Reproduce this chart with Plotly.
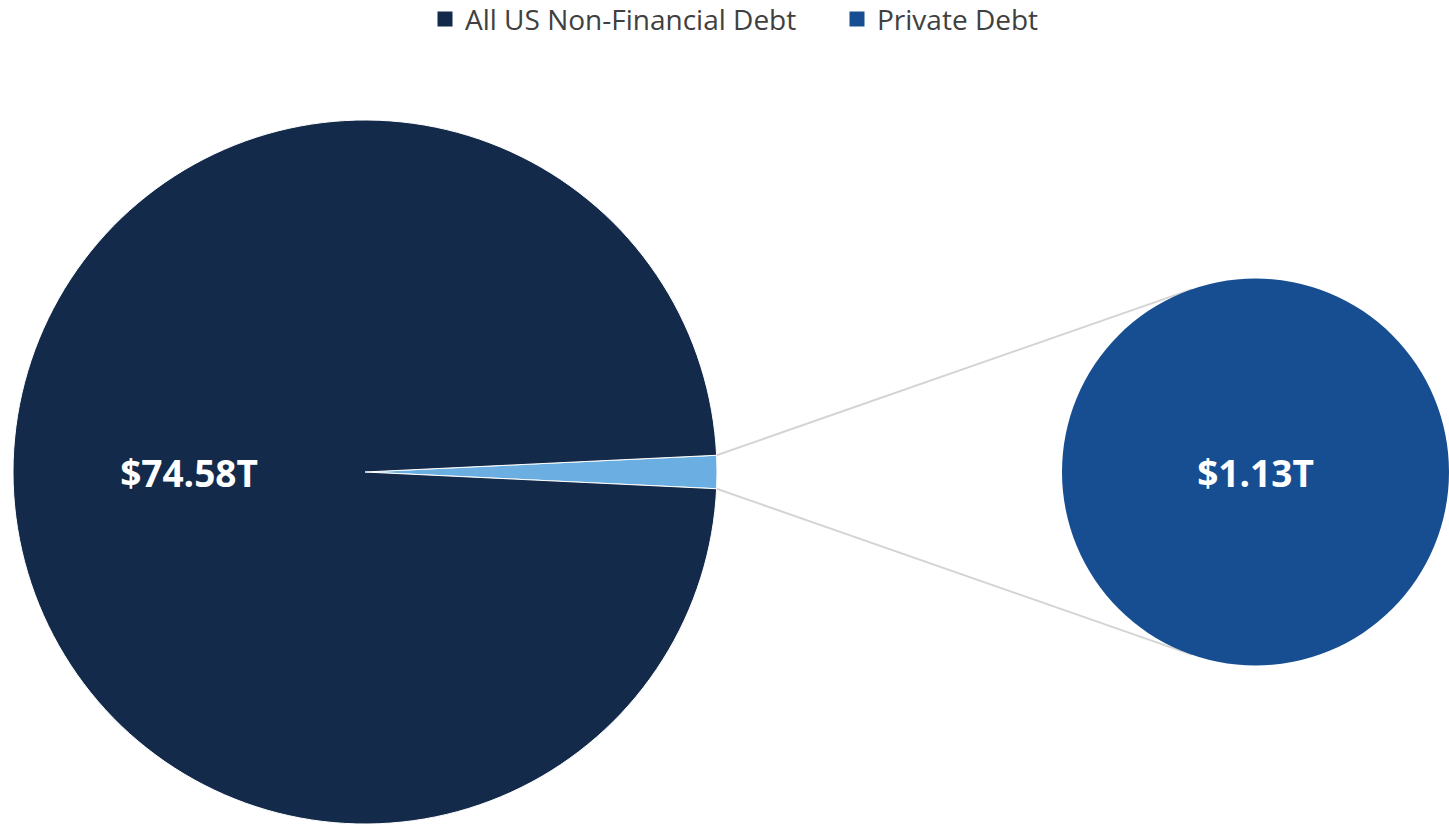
import math
import plotly.graph_objects as go

# values in trillions USD
labels = ["All US Non-Financial Debt", "Private Debt"]
total_debt = 74.58
private_debt = 1.13
text_labels = ["$74.58T", "$1.13T"]

navy = "#132a4a"
blue = "#174e92"
light_blue = "#6aaee2"

W, H = 1449, 824

# pie domains (paper coords)
big_dom = dict(x=[13 / W, 717 / W], y=[0, 1 - 120 / H])
small_dom = dict(x=[1062 / W, 1.0], y=[1 - 666 / H, 1 - 278 / H])

frac = private_debt / total_debt
half = frac * 180  # half of slice angle in degrees

fig = go.Figure()

fig.add_trace(go.Pie(
    labels=["Private Debt (share)", labels[0]],
    values=[private_debt, total_debt - private_debt],
    text=["", text_labels[0]],
    textinfo="text",
    textposition="inside",
    insidetextorientation="horizontal",
    textfont=dict(family="Open Sans", size=37, color="white", weight="bold"),
    marker=dict(colors=[light_blue, navy], line=dict(color="white", width=1)),
    sort=False,
    direction="clockwise",
    rotation=90 - half,
    domain=big_dom,
    hoverinfo="label+value",
    showlegend=False,
))

fig.add_trace(go.Pie(
    labels=[labels[1]],
    values=[private_debt],
    text=[text_labels[1]],
    textinfo="text",
    textposition="inside",
    textfont=dict(family="Open Sans", size=37, color="white", weight="bold"),
    marker=dict(colors=[blue]),
    domain=small_dom,
    showlegend=False,
))

# legend entries
for name, col in zip(labels, [navy, blue]):
    fig.add_trace(go.Scatter(
        x=[None], y=[None], mode="markers", name=name,
        marker=dict(symbol="square", size=15, color=col),
    ))

# connector lines: slice corners -> tangent points on the small pie
def px_geom(dom):
    x0, x1 = dom["x"][0] * W, dom["x"][1] * W
    y0, y1 = (1 - dom["y"][1]) * H, (1 - dom["y"][0]) * H
    return (x0 + x1) / 2, (y0 + y1) / 2, min(x1 - x0, y1 - y0) / 2

bcx, bcy, br = px_geom(big_dom)
scx, scy, sr = px_geom(small_dom)
for sgn in (-1, 1):
    a = math.radians(90 + sgn * half)
    px, py = bcx + br * math.sin(a), bcy - br * math.cos(a)
    dx, dy = px - scx, py - scy
    d = math.hypot(dx, dy)
    phi = math.atan2(dy, dx)
    t = phi - sgn * math.acos(sr / d)
    tx, ty = scx + sr * math.cos(t), scy + sr * math.sin(t)
    fig.add_shape(type="line", xref="paper", yref="paper",
                  x0=px / W, y0=1 - py / H, x1=tx / W, y1=1 - ty / H,
                  line=dict(color="#d4d4d4", width=2), layer="below")

fig.update_layout(
    width=W, height=H,
    margin=dict(l=0, r=0, t=0, b=0, autoexpand=False),
    paper_bgcolor="white", plot_bgcolor="white",
    xaxis=dict(visible=False), yaxis=dict(visible=False),
    font=dict(family="Open Sans", color="#404040"),
    legend=dict(orientation="h", x=425 / W, xanchor="left", y=1.007, yanchor="top",
                font=dict(size=28, color="#404040"), itemwidth=30,
                entrywidth=367, entrywidthmode="pixels",
                bgcolor="rgba(0,0,0,0)", tracegroupgap=0),
)

fig.write_html("out.html", config={"displayModeBar": False},
               post_script="document.body.style.margin='0';document.body.style.overflow='hidden';")
